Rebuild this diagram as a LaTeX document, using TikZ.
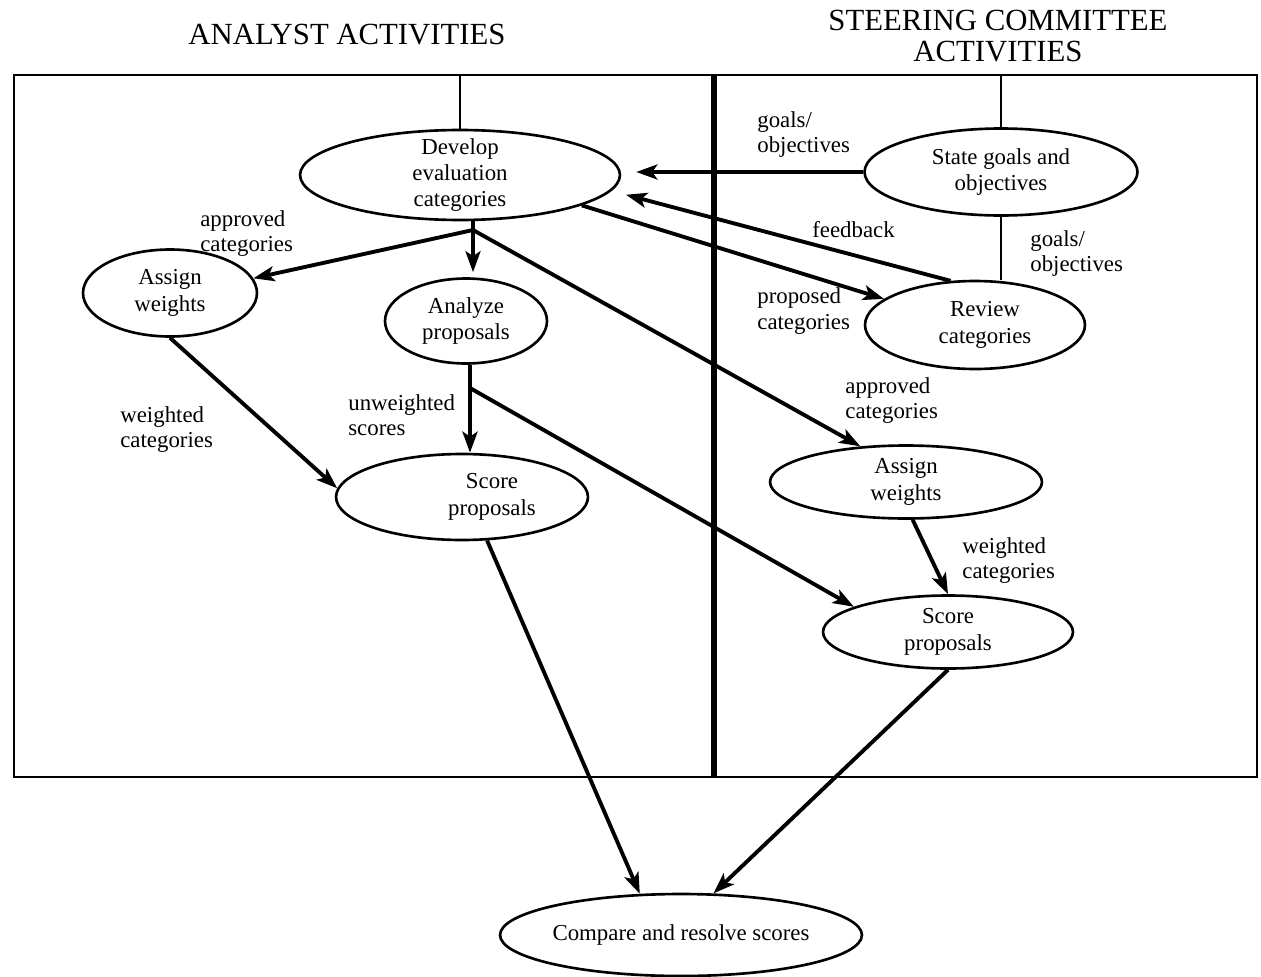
\documentclass[tikz,border=0pt]{standalone}
\usepackage{fontspec}
\setmainfont{Liberation Serif}
\usetikzlibrary{shapes.geometric,arrows.meta}

\begin{document}
\begin{tikzpicture}[x=0.02cm, y=-0.02cm,
    act/.style={ellipse, draw, line width=1.5pt, inner sep=0pt},
    txt/.style={font=\fontsize{13}{15}\selectfont, align=center},
    note/.style={font=\fontsize{13}{14.5}\selectfont, align=left, anchor=west, inner sep=0pt},
    head/.style={font=\fontsize{17.5}{17.5}\selectfont, align=center, inner sep=0pt},
    flow/.style={line width=2.2pt, -{Stealth[length=0.42cm, width=0.3cm, inset=0.1cm]}},
    link/.style={line width=1.5pt}]
\useasboundingbox (0,0) rectangle (1261,977);

% headings
\node[head] (h1) at (347,35) {ANALYST ACTIVITIES};
\node[head] (h2) at (998,36) {STEERING COMMITTEE\\ACTIVITIES};

% frame and divider
\node[draw, line width=1.5pt, minimum width=24.86cm, minimum height=14.04cm, inner sep=0pt] (frame) at (635.5,426) {};
\coordinate (split) at (714,75);
\draw[line width=3pt] (split) -- (split |- frame.south);

% activities
\node[act, minimum width=6.4cm, minimum height=1.8cm, label={[txt]center:Develop\\evaluation\\categories}] (dev) at (460,175) {};
\node[act, minimum width=5.46cm, minimum height=1.74cm, label={[txt]center:State goals and\\objectives}] (goal) at (1001,172) {};
\node[act, minimum width=4.4cm, minimum height=1.76cm, label={[txt, xshift=0.2cm]center:Review\\categories}] (rev) at (975,325) {};
\node[act, minimum width=3.48cm, minimum height=1.74cm, label={[txt]center:Assign\\weights}] (aw1) at (170,293) {};
\node[act, minimum width=3.24cm, minimum height=1.7cm, label={[txt]center:Analyze\\proposals}] (ana) at (466,321) {};
\node[act, minimum width=5.04cm, minimum height=1.72cm, label={[txt, xshift=0.6cm]center:Score\\proposals}] (sc1) at (462,497) {};
\node[act, minimum width=5.44cm, minimum height=1.46cm, label={[txt]center:Assign\\weights}] (aw2) at (906,482) {};
\node[act, minimum width=5cm, minimum height=1.46cm, label={[txt]center:Score\\proposals}] (sc2) at (948,632) {};
\node[act, minimum width=7.24cm, minimum height=1.64cm, label={[txt]center:Compare and resolve scores}] (cmp) at (681,935) {};

% plain links
\draw[link] (dev.north) -- (dev.north |- frame.north);
\draw[link] (goal.north) -- (goal.north |- frame.north);
\draw[link] (goal.south) -- (rev.north -| goal.south);

% flows
\draw[flow, shorten >=0.3cm] (goal.west) -- (goal.west -| dev.east);
\draw[flow, shorten >=0.3cm] (rev.119) -- (dev.-6);
\draw[flow] (dev.-14) -- (rev.164);
\coordinate (fork1) at (473,230);
\draw[flow, shorten >=0.1cm] (fork1 |- dev.south) -- (fork1 |- ana.north);
\draw[flow] (fork1) -- (aw1.10);
\draw[flow] (fork1) -- (aw2.142);
\coordinate (fork2) at (470,388);
\draw[flow] (fork2 |- ana.south) -- (fork2 |- sc1.north);
\draw[flow] (fork2) -- (sc2.165);
\draw[flow] (aw1.south) -- (sc1.176);
\draw[flow] (aw2.-80) -- (sc2.north);
\draw[flow] (sc1.-60) -- (cmp.135);
\draw[flow] (sc2.south) -- (cmp.52);

% flow labels
\node[note] (n1) at (757,134.5) {goals/\\objectives};
\node[note] (n2) at (812,230) {feedback};
\node[note] (n3) at (1030,253.5) {goals/\\objectives};
\node[note] (n4) at (757,311) {proposed\\categories};
\node[note] (n5) at (845,400.5) {approved\\categories};
\node[note] (n6) at (962,560.5) {weighted\\categories};
\node[note] (n7) at (200,233.5) {approved\\categories};
\node[note] (n8) at (120,429.5) {weighted\\categories};
\node[note] (n9) at (348,415) {unweighted\\scores};
\end{tikzpicture}
\end{document}
